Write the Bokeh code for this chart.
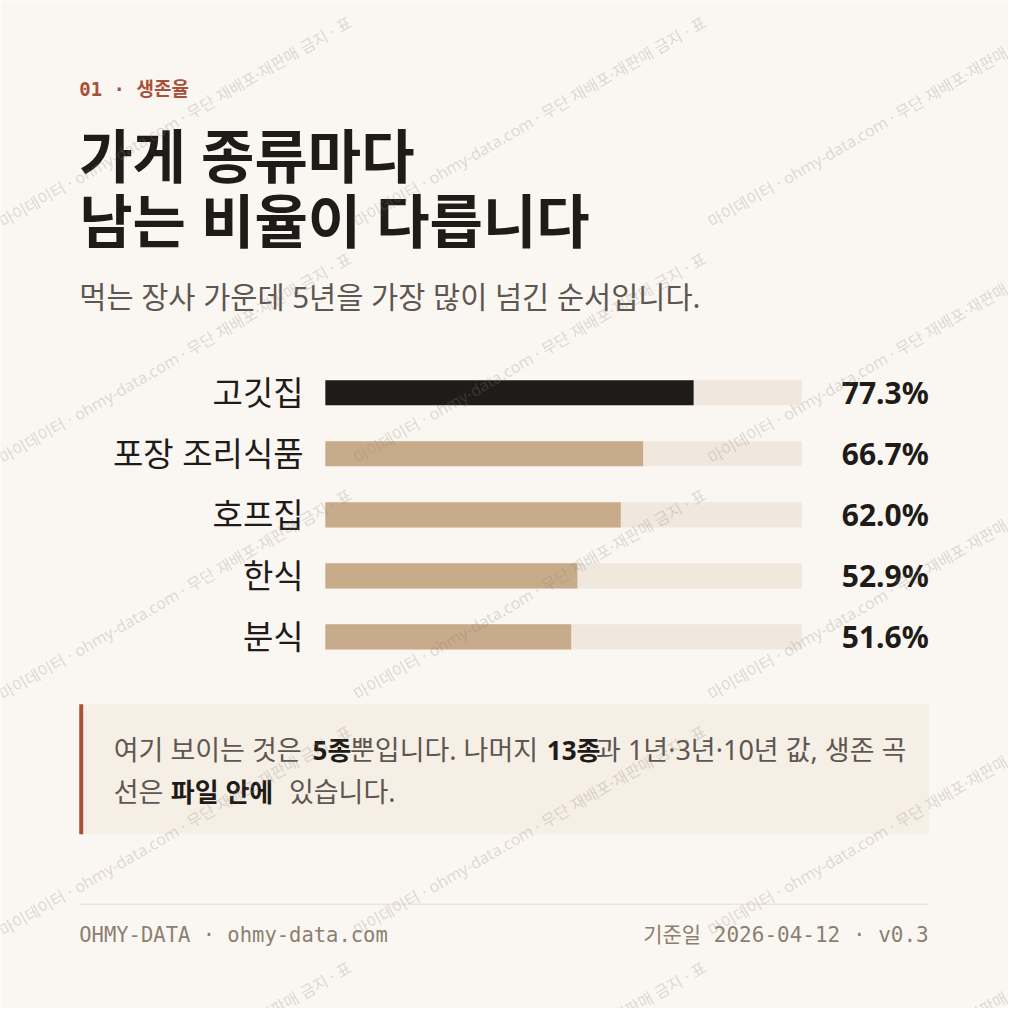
from math import pi

from bokeh.core.properties import value
from bokeh.embed import file_html
from bokeh.models import ColumnDataSource, Range1d
from bokeh.plotting import figure
from bokeh.resources import INLINE

# 5년 생존율 (%)
categories = ["고깃집", "포장 조리식품", "호프집", "한식", "분식"]
survival_5y = [77.3, 66.7, 62.0, 52.9, 51.6]
track_max = 100

kicker = "01 · 생존율"
title_lines = ["가게 종류마다", "남는 비율이 다릅니다"]
subtitle = "먹는 장사 가운데 5년을 가장 많이 넘긴 순서입니다."
footer_left = "OHMY-DATA · ohmy-data.com"
footer_right = "기준일 2026-04-12 · v0.3"
watermark = "마이데이터 · ohmy-data.com · 무단 재배포·재판매 금지 · 표"

# 색
BG = "#faf7f2"
INK = "#1f1b18"
MUTED = "#5e5650"
RUST = "#a8503a"
TAN = "#c8ab8a"
TRACK = "#f0e8dc"
NOTE_BG = "#f5efe6"
FOOT = "#8c7f70"

KR = value("Noto Sans, Noto Sans CJK KR")
MONO = value("DejaVu Sans Mono, Noto Sans CJK KR")

# 화면 좌표계: 0~1024 (원본 카드 크기)를 1008px 에 그림
W, H = 1008, 1008
CARD = 1024
p = figure(width=W, height=H, x_range=Range1d(0, CARD), y_range=Range1d(CARD, 0),
           output_backend="svg", toolbar_location=None, min_border=0,
           x_axis_location=None, y_axis_location=None)
p.grid.visible = False
p.outline_line_color = None
p.background_fill_color = BG
p.border_fill_color = BG

# 막대 영역 스케일: 0~100% -> x 330~814, 행 간격 62
TRACK_L, TRACK_R = 330, 814
ROW0, ROW_GAP = 398.5, 62
px_per = (TRACK_R - TRACK_L) / track_max
p.extra_x_ranges = {"pct": Range1d((0 - TRACK_L) / px_per, (CARD - TRACK_L) / px_per)}
p.extra_y_ranges = {"row": Range1d((CARD - ROW0) / ROW_GAP, (0 - ROW0) / ROW_GAP)}

src = ColumnDataSource(dict(
    row=list(range(len(categories))),
    cat=categories,
    val=survival_5y,
    full=[track_max] * len(categories),
    label=[f"{v:.1f}%" for v in survival_5y],
    color=[INK if i == 0 else TAN for i in range(len(categories))],
))

# 머리글
p.text(x=[80], y=[90], text=[kicker], text_font=MONO, text_font_size="19px",
       text_font_style="bold", text_color=RUST, text_baseline="middle")
for line, yy in zip(title_lines, [157.5, 223.5]):
    p.text(x=[80], y=[yy], text=[line], text_font=KR, text_font_size="58px",
           text_font_style="bold", text_color=INK, text_baseline="middle")
p.text(x=[80], y=[301], text=[subtitle], text_font=KR, text_font_size="29.5px",
       text_color=MUTED, text_baseline="middle")

# 막대
bar_h = 25.5 / ROW_GAP
p.hbar(y="row", left=0, right="full", height=bar_h, source=src, fill_color=TRACK,
       line_color=None, x_range_name="pct", y_range_name="row")
p.hbar(y="row", left=0, right="val", height=bar_h, source=src, fill_color="color",
       line_color=None, x_range_name="pct", y_range_name="row")
p.text(x=308, y="row", text="cat", source=src, y_range_name="row", text_font=KR,
       text_font_size="33px", text_color=INK, text_align="right", text_baseline="middle")
p.text(x=943, y="row", text="label", source=src, y_range_name="row", text_font=KR,
       text_font_size="30px", text_font_style="bold", text_color=INK,
       text_align="right", text_baseline="middle")

# 안내 상자
p.quad(left=[80], right=[943], top=[715], bottom=[847], fill_color=NOTE_BG, line_color=None)
p.quad(left=[80], right=[84], top=[715], bottom=[847], fill_color=RUST, line_color=None)
note_parts = [
    ("여기 보이는 것은", 115, 761, False),
    ("5종", 317, 761, True),
    ("뿐입니다. 나머지", 355, 761, False),
    ("13종", 555, 761, True),
    ("과 1년·3년·10년 값, 생존 곡", 605, 761, False),
    ("선은", 115, 804, False),
    ("파일 안에", 173, 804, True),
    ("있습니다.", 293, 804, False),
]
for txt, xx, yy, bold in note_parts:
    p.text(x=[xx], y=[yy], text=[txt], text_font=KR,
           text_font_size="26px" if bold else "27px",
           text_font_style="bold" if bold else "normal",
           text_color=INK if bold else MUTED, text_baseline="middle")

# 바닥글
p.segment(x0=[80], y0=[918], x1=[943], y1=[918], line_color="#ece4d8", line_width=1.5)
p.text(x=[80], y=[949], text=[footer_left], text_font=MONO, text_font_size="20.5px",
       text_color=FOOT, text_baseline="middle")
p.text(x=[943], y=[949], text=[footer_right], text_font=MONO, text_font_size="21px",
       text_color=FOOT, text_align="right", text_baseline="middle")

# 워터마크
wx, wy = [], []
for j in range(3):
    for k in range(5):
        wx.append(360 * j)
        wy.append(226 + 240 * k)
p.text(x=wx, y=wy, text=[watermark] * len(wx), angle=pi / 6, text_font=KR,
       text_font_size="16px", text_color="#8a8075", text_alpha=0.27,
       text_baseline="alphabetic")

open("out.html", "w").write(file_html(p, INLINE))
